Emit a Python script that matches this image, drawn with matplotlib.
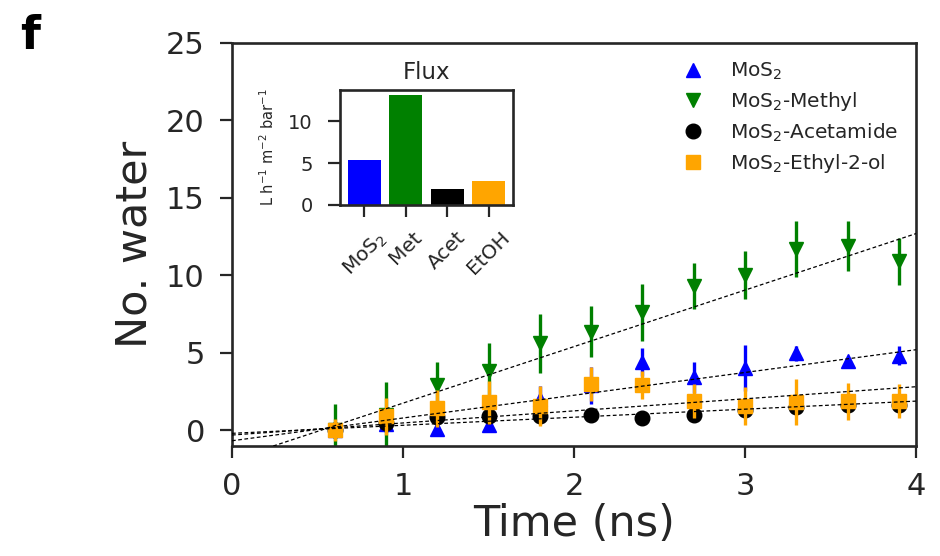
import numpy as np
import matplotlib
matplotlib.use('Agg')
import matplotlib.pyplot as plt

# time points (ns)
time_ns = [0.6, 0.9, 1.2, 1.5, 1.8, 2.1, 2.4, 2.7, 3.0, 3.3, 3.6, 3.9]

mos2 = [0.0, 0.4, 0.05, 0.35, 2.0, 2.9, 4.4, 3.4, 4.0, 4.95, 4.45, 4.8]
mos2_err = [0.5, 0.5, 0.4, 0.35, 0.85, 1.2, 0.9, 1.0, 1.5, 0.5, 0.2, 0.6]

methyl = [0.0, 1.0, 2.9, 3.8, 5.6, 6.35, 7.6, 9.3, 10.0, 11.7, 11.9, 10.9]
methyl_err = [1.7, 2.1, 1.5, 1.8, 1.9, 1.65, 1.85, 1.5, 1.55, 1.8, 1.6, 1.5]

acet = [0.0, 0.45, 0.85, 0.9, 0.9, 1.0, 0.8, 0.97, 1.3, 1.5, 1.6, 1.6]
acet_err = [0.3, 0.6, 0.3, 0.3, 0.3, 0.3, 0.3, 0.3, 0.4, 0.4, 0.3, 0.4]

ethyl = [0.0, 0.9, 1.4, 1.8, 1.55, 3.0, 2.9, 1.87, 1.55, 1.8, 1.87, 1.87]
ethyl_err = [0.7, 1.2, 1.2, 1.4, 1.3, 1.1, 0.9, 1.1, 1.25, 1.5, 1.2, 1.1]

# linear fits (slope, intercept)
fit_slope = [1.47, 3.65, 0.52, 0.78]
fit_icpt = [-0.69, -1.91, -0.21, -0.32]

# inset flux
flux_labels = ['MoS$_2$', 'Met', 'Acet', 'EtOH']
flux_vals = [5.35, 13.1, 1.9, 2.85]

colors = ['blue', 'green', 'black', 'orange']
markers = ['^', 'v', 'o', 's']
labels = ['MoS$_2$', 'MoS$_2$-Methyl', 'MoS$_2$-Acetamide', 'MoS$_2$-Ethyl-2-ol']
series = [(mos2, mos2_err), (methyl, methyl_err), (acet, acet_err), (ethyl, ethyl_err)]

txt = '#262626'
plt.rcParams['font.family'] = ['DejaVu Sans']
plt.rcParams['text.color'] = txt
plt.rcParams['axes.labelcolor'] = txt
plt.rcParams['xtick.color'] = txt
plt.rcParams['ytick.color'] = txt
plt.rcParams['axes.edgecolor'] = txt
plt.rcParams['axes.linewidth'] = 1.9
plt.rcParams['xtick.major.width'] = 1.6
plt.rcParams['ytick.major.width'] = 1.6
plt.rcParams['xtick.major.size'] = 8.5
plt.rcParams['ytick.major.size'] = 8.5
plt.rcParams['xtick.major.pad'] = 10
plt.rcParams['ytick.major.pad'] = 11

fig = plt.figure(figsize=(9.4, 5.56), dpi=100)
ax = fig.add_axes([0.2468, 0.1978, 0.7277, 0.7249])

for (vals, errs), c, m, lab in zip(series, colors, markers, labels):
    ax.errorbar(time_ns, vals, yerr=errs, fmt='none', ecolor=c, elinewidth=2.4, capsize=0)
    ax.plot(time_ns, vals, linestyle='none', marker=m, color=c, markersize=10.5, label=lab)

for s, b in zip(fit_slope, fit_icpt):
    ax.axline((0, b), slope=s, color='k', linestyle=(0, (3, 2)), linewidth=0.9, zorder=5)

ax.set_xlim(0, 4)
ax.set_ylim(-1.03, 25)
ax.set_xticks([0, 1, 2, 3, 4])
ax.set_yticks([0, 5, 10, 15, 20, 25])
ax.tick_params(labelsize=22)
ax.set_xlabel('Time (ns)', fontsize=31, labelpad=2)
ax.set_ylabel('No. water', fontsize=31, labelpad=8)
ax.legend(loc='upper right', frameon=False, fontsize=14.5, labelspacing=0.4,
          handletextpad=0.8, markerscale=1.0)

# inset with flux bars
ins = fig.add_axes([0.3617, 0.6313, 0.184, 0.2068])
ins.bar(range(len(flux_vals)), flux_vals, color=colors, width=0.8)
ins.set_xticks(range(len(flux_vals)))
ins.set_xticklabels(flux_labels, rotation=45, ha='center', fontsize=14.5)
ins.set_yticks([0, 5, 10])
ins.tick_params(axis='y', labelsize=14)
ins.tick_params(axis='x', pad=8)
ins.set_title('Flux', fontsize=16.5, pad=8)
ins.set_ylabel('L h$^{-1}$ m$^{-2}$ bar$^{-1}$', fontsize=10.5, labelpad=8)

fig.text(0.021, 0.975, 'f', fontsize=33, fontweight='bold', color='black', va='top')

fig.savefig('out.png', dpi=100)
